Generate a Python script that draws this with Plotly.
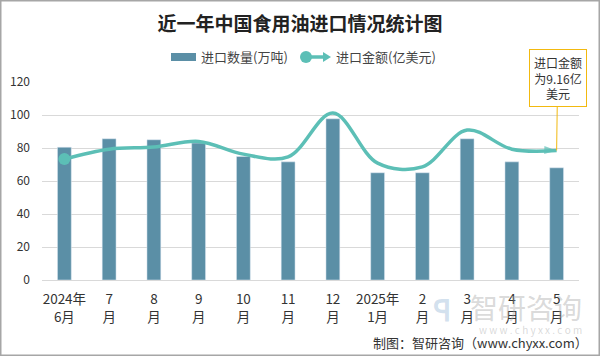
import plotly.graph_objects as go

categories = ["2024年<br>6月", "7<br>月", "8<br>月", "9<br>月", "10<br>月", "11<br>月",
              "12<br>月", "2025年<br>1月", "2<br>月", "3<br>月", "4<br>月", "5<br>月"]
volume = [80.5, 85.6, 85.0, 83.0, 74.9, 71.6, 97.7, 65.0, 65.0, 85.6, 71.6, 68.0]
amount = [8.55, 9.25, 9.4, 9.8, 8.9, 8.7, 11.8, 8.26, 8.0, 10.6, 9.25, 9.16]
y_ticks = [0, 20, 40, 60, 80, 100, 120]
bar_name = "进口数量(万吨)"
line_name = "进口金额(亿美元)"

bar_color = "#5B8FA6"
line_color = "#5CBFB6"

W, H = 600, 356
ml, mr, mt, mb = 42, 21, 82, 76
pw, ph = W - ml - mr, H - mt - mb


def px(x):
    return (x - ml) / pw


def py(y):
    return (H - mb - y) / ph


fig = go.Figure()
fig.add_trace(go.Bar(
    x=categories, y=volume, name=bar_name,
    marker=dict(color=bar_color), width=0.31, showlegend=False,
))
fig.add_trace(go.Scatter(
    x=categories, y=amount, name=line_name, yaxis="y2",
    mode="lines", showlegend=False,
    line=dict(color=line_color, width=3.5, shape="spline", smoothing=1.0),
))
# start dot
fig.add_trace(go.Scatter(
    x=categories[:1], y=amount[:1], yaxis="y2", mode="markers", showlegend=False,
    marker=dict(symbol="circle", size=12, color=line_color, line=dict(width=0)),
    hoverinfo="skip",
))
# end arrow
fig.add_trace(go.Scatter(
    x=categories[-2:], y=amount[-2:], yaxis="y2", mode="markers", showlegend=False,
    marker=dict(symbol=["circle", "arrow"], size=[0, 13], color=line_color,
                angleref="previous", line=dict(width=0)),
    hoverinfo="skip",
))

fig.update_layout(
    width=W, height=H,
    margin=dict(l=ml, r=mr, t=mt, b=mb, autoexpand=False),
    paper_bgcolor="white", plot_bgcolor="white",
    font=dict(family="Noto Sans CJK SC", size=12, color="#333333"),
    title=dict(text="<b>近一年中国食用油进口情况统计图</b>", x=0.5, xanchor="center",
               y=1 - 24 / H, yanchor="middle",
               font=dict(family="Noto Sans CJK SC", size=19, color="#222222")),
    showlegend=False,
    bargap=0.69,
    xaxis=dict(range=[-0.5, 11.5], showgrid=False, showline=True, linecolor="#D9D9D9",
               linewidth=1, ticks="", tickfont=dict(size=13.5, color="#333333"),
               ticklabelstandoff=7),
    yaxis=dict(range=[0, 120], tickvals=y_ticks, showgrid=True, gridcolor="#D9D9D9",
               gridwidth=1, zeroline=False, showline=False, ticks="",
               tickfont=dict(size=12, color="#333333"), ticklabelstandoff=11),
    yaxis2=dict(range=[0, 14], overlaying="y", side="right", visible=False),
)

# outer frame
fig.add_shape(type="rect", xref="paper", yref="paper",
              x0=px(0.75), x1=px(W - 0.75), y0=py(H - 0.75), y1=py(0.75),
              line=dict(color="#A6A6A6", width=1.5), fillcolor="rgba(0,0,0,0)")

# custom legend
fig.add_shape(type="rect", xref="paper", yref="paper",
              x0=px(171), x1=px(196), y0=py(61), y1=py(53),
              line=dict(width=0), fillcolor=bar_color)
fig.add_annotation(x=px(199), y=py(57), xref="paper", yref="paper", text=bar_name,
                   showarrow=False, xanchor="left", yanchor="middle",
                   font=dict(size=13, color="#444444"))
fig.add_shape(type="line", xref="paper", yref="paper",
              x0=px(306), x1=px(326), y0=py(57), y1=py(57),
              line=dict(color=line_color, width=3.5))
fig.add_shape(type="circle", xref="paper", yref="paper",
              x0=px(300), x1=px(312), y0=py(63), y1=py(51),
              line=dict(width=0), fillcolor=line_color)
fig.add_shape(type="path", xref="paper", yref="paper",
              path=f"M {px(323)} {py(52)} L {px(331)} {py(57)} L {px(323)} {py(62)} Z",
              line=dict(width=0), fillcolor=line_color)
fig.add_annotation(x=px(334), y=py(57), xref="paper", yref="paper", text=line_name,
                   showarrow=False, xanchor="left", yanchor="middle",
                   font=dict(size=13, color="#444444"))

# callout
fig.add_annotation(x=categories[-1], y=amount[-1], xref="x", yref="y2",
                   text="进口金额<br>为9.16亿<br>美元", showarrow=True,
                   ax=1, ay=-72, arrowhead=0, arrowcolor="#F2B90F", arrowwidth=1,
                   bordercolor="#F2B90F", borderwidth=1, borderpad=4, bgcolor="white",
                   font=dict(size=12, color="#333333"), align="center")

# watermark
fig.add_annotation(x=px(584), y=py(307), xref="paper", yref="paper",
                   text="智研咨询", showarrow=False, xanchor="right", yanchor="middle",
                   font=dict(size=28, color="rgba(160,160,160,0.40)"))
fig.add_annotation(x=px(442), y=py(308), xref="paper", yref="paper",
                   text="<b>ꟼ</b>", showarrow=False, xanchor="center", yanchor="middle",
                   font=dict(size=30, color="rgba(140,175,210,0.40)"))
fig.add_annotation(x=px(584), y=py(329), xref="paper", yref="paper",
                   text="w w w . c h y x x . c o m", showarrow=False, xanchor="right",
                   yanchor="middle", font=dict(size=10, color="rgba(160,160,160,0.40)"))
# source
fig.add_annotation(x=px(590), y=py(342), xref="paper", yref="paper",
                   text="制图：智研咨询（www.chyxx.com）", showarrow=False, xanchor="right",
                   yanchor="middle", font=dict(size=13, color="#333333"))

fig.write_html("out.html", config={"displayModeBar": False},
               post_script="document.body.style.margin='0';")
